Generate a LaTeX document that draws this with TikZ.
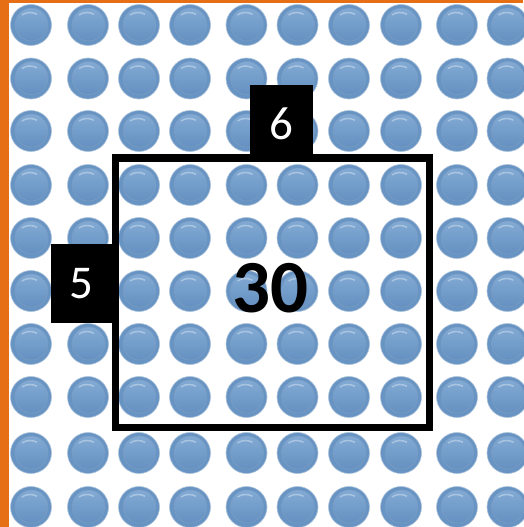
\documentclass[tikz,border=0pt]{standalone}
\usepackage{fontspec}
\setmainfont{Carlito}
\definecolor{barorange}{RGB}{230,110,20}
\definecolor{dotrim}{RGB}{104,148,196}
\definecolor{dotedge}{RGB}{90,133,180}
\definecolor{dottop}{RGB}{130,170,212}
\definecolor{dotbot}{RGB}{100,144,192}
\tikzset{
  dotouter/.style={fill=dotrim, draw=dotedge!50!white, line width=0.6pt},
  dotinner/.style={top color=dottop, bottom color=dotbot, draw=dotedge!80!white, line width=0.5pt},
  numbox/.style={fill=black, text=white, inner sep=0pt, font=\fontsize{47}{47}\selectfont},
}
\begin{document}
\begin{tikzpicture}[x=1pt, y=-1pt]
		\useasboundingbox (0,0) rectangle (523,527);
		\fill[white] (0,0) rectangle (523,527);
		% ===== ORANGE EDGES =====
		\fill[barorange] (0,0) rectangle (523,3);
		\fill[barorange] (0,0) rectangle (8.5,527);
		% ===== GRID OF COUNTERS: 10 x 10 =====
		\foreach \x in {31,88,139,190,246.5,297.5,349,401,457,507.5} {
			\foreach \y in {25,78.5,131,185,238,291,344,397,453,507} {
				\draw[dotouter] (\x,\y) circle (20.5);
				\draw[dotinner] (\x+0.5,\y-0.5) circle (16.5);
				\draw[white, opacity=0.35, line width=1.5pt] (\x-9,\y-10) arc (235:300:14);
			}
		}
		% ===== ARRAY FRAME: 5 rows by 6 columns =====
		\draw[line width=7.5pt] (115.5,158) rectangle (429.5,427.5);
		% ===== FACTOR LABELS AND PRODUCT =====
		\node[numbox, minimum width=61pt, minimum height=79pt] (rows) at (81.5,283.5) {5};
		\node[numbox, minimum width=63pt, minimum height=77pt] (cols) at (281.5,123.5) {6};
		\node[font=\fontsize{75}{75}\selectfont\bfseries, inner sep=0pt] (product) at (270.5,288) {30};
\end{tikzpicture}
\end{document}
